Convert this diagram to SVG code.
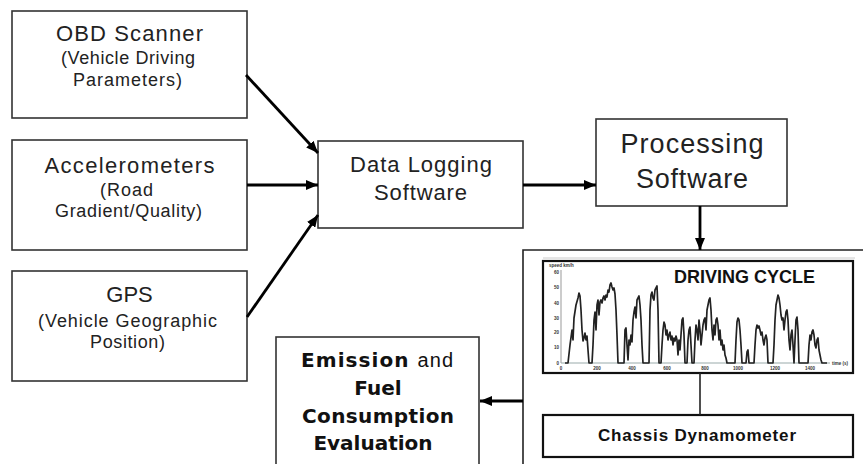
<svg xmlns="http://www.w3.org/2000/svg" width="863" height="464" viewBox="0 0 863 464">
  <defs>
    <marker id="arrow" viewBox="0 0 12 10" refX="12" refY="5" markerWidth="12" markerHeight="10" markerUnits="userSpaceOnUse" orient="auto">
      <path d="M0,0 L12,5 L0,10 Z" fill="#000"/>
    </marker>
    <style>
      .box { fill: #fff; stroke: #333; stroke-width: 1.6; }
      .frame { fill: #fff; stroke: #111; stroke-width: 2.2; }
      .t { font-family: "Liberation Sans", Arial, sans-serif; fill: #222; text-anchor: middle; }
      .big { font-size: 22px; }
      .sub { font-size: 18px; }
      .bold { font-family: "DejaVu Sans", Verdana, sans-serif; font-weight: bold; font-size: 20px; fill: #111; text-anchor: middle; }
      .conn { fill: none; stroke: #000; stroke-width: 2.8; }
      .thin { fill: none; stroke: #222; stroke-width: 1.6; }
      .tick { font-family: "Liberation Sans", Arial, sans-serif; font-weight: bold; font-size: 4.5px; fill: #333; }
    </style>
  </defs>
  <rect width="863" height="464" fill="#fff"/>

  <!-- input sources -->
  <g id="obd-scanner">
    <rect class="box" x="12" y="11" width="235" height="107"/>
    <text class="t big" x="129.5" y="41" textLength="147">OBD Scanner</text>
    <text class="t sub" x="128" y="64" textLength="134">(Vehicle Driving</text>
    <text class="t sub" x="127.5" y="86" textLength="109">Parameters)</text>
  </g>
  <g id="accelerometers">
    <rect class="box" x="12" y="140" width="235" height="110"/>
    <text class="t big" x="129.5" y="173" textLength="170">Accelerometers</text>
    <text class="t sub" x="126.5" y="196" textLength="53">(Road</text>
    <text class="t sub" x="128.5" y="217" textLength="147">Gradient/Quality)</text>
  </g>
  <g id="gps">
    <rect class="box" x="12" y="271" width="235" height="110"/>
    <text class="t big" x="129.5" y="302">GPS</text>
    <text class="t sub" x="127.5" y="327" textLength="179">(Vehicle Geographic</text>
    <text class="t sub" x="127.5" y="348" textLength="75">Position)</text>
  </g>

  <!-- logging and processing -->
  <g id="data-logging">
    <rect class="box" x="318" y="141" width="205" height="87"/>
    <text class="t big" x="421" y="172" textLength="142">Data Logging</text>
    <text class="t big" x="420.5" y="200" textLength="93">Software</text>
  </g>
  <g id="processing">
    <rect class="box" x="596" y="119" width="191" height="87"/>
    <text class="t" style="font-size:27px" x="692" y="153" textLength="143">Processing</text>
    <text class="t" style="font-size:27px" x="692" y="188" textLength="112">Software</text>
  </g>

  <!-- test bench enclosure: open on the right and bottom -->
  <g id="test-bench">
    <path class="thin" d="M863,250 H523 V464"/>
    <line x1="543" y1="258" x2="855" y2="258" stroke="#ccc" stroke-width="1"/>
  </g>

  <g id="driving-cycle">
    <rect class="frame" x="543" y="261" width="310" height="112"/>
    <!-- axes -->
    <line x1="561" y1="270" x2="561" y2="363" stroke="#999" stroke-width="1"/>
    <line x1="561" y1="363" x2="830" y2="363" stroke="#9aa" stroke-width="1"/>
    <!-- speed trace -->
    <polyline fill="none" stroke="#222" stroke-width="1.7" stroke-linejoin="round" points="565,363 568,363 570,345 572,330 573,340 574,318 576,305 578,298 579,293 580,296 581,310 582,330 583,341 584,338 585,333 586,340 587,336 588,350 589,363 592,363 593,345 594,320 595,312 596,330 597,305 598,300 599,315 600,302 601,300 602,303 603,298 604,296 605,300 606,295 607,297 608,290 609,292 610,285 611,283 612,287 613,290 614,288 615,294 616,310 617,335 618,363 624,363 625,330 626,328 627,345 628,360 629,340 630,345 631,335 632,342 633,320 634,312 635,307 636,318 637,300 638,298 639,296 640,305 641,320 642,345 643,363 649,363 650,310 651,295 652,292 653,298 654,300 655,290 656,288 657,286 658,310 659,363 661,363 662,345 663,330 664,322 665,325 666,335 667,330 668,340 669,335 670,332 671,340 672,336 673,345 674,338 675,341 676,336 677,340 678,355 679,340 680,350 681,335 682,320 683,318 684,335 685,363 687,363 688,340 689,330 690,327 691,345 692,363 694,363 695,340 696,325 697,330 698,340 699,320 700,330 701,345 702,335 703,325 704,320 705,318 706,330 707,310 708,305 709,300 710,298 711,310 712,330 713,340 714,325 715,335 716,320 717,318 718,325 719,340 720,330 721,345 722,340 723,350 724,345 725,355 726,358 727,363 735,363 736,340 737,322 738,318 739,320 740,330 741,345 742,363 746,363 747,352 748,350 749,363 754,363 755,345 756,330 757,325 758,328 759,326 760,330 761,335 762,332 763,340 764,345 765,338 766,335 767,340 768,363 773,363 774,345 775,320 776,305 777,300 778,295 779,298 780,305 781,315 782,320 783,318 784,330 785,320 786,312 787,310 788,320 789,340 790,350 791,335 792,330 793,345 794,363 795,340 796,320 797,317 798,330 799,363 808,363 809,345 810,335 811,340 812,332 813,330 814,335 815,345 816,348 817,340 818,338 819,350 820,355 821,360 822,363 827,363"/>
    <!-- axis labels -->
    <text class="tick" x="549" y="267">speed km/h</text>
    <g class="tick" text-anchor="end">
      <text x="559" y="365">0</text>
      <text x="559" y="349">10</text>
      <text x="559" y="334">20</text>
      <text x="559" y="320">30</text>
      <text x="559" y="305">40</text>
      <text x="559" y="289">50</text>
      <text x="559" y="274">60</text>
    </g>
    <g class="tick" text-anchor="middle">
      <text x="561" y="370">0</text>
      <text x="597" y="370">200</text>
      <text x="632" y="370">400</text>
      <text x="667" y="370">600</text>
      <text x="705" y="370">800</text>
      <text x="738" y="370">1000</text>
      <text x="775" y="370">1200</text>
      <text x="810" y="370">1400</text>
    </g>
    <text class="tick" x="832" y="365">time (s)</text>
    <text x="674" y="283" textLength="141" style="font-family:'Liberation Sans',Arial,sans-serif;font-weight:bold;font-size:18px;fill:#111">DRIVING CYCLE</text>
  </g>

  <g id="chassis-dynamometer">
    <rect class="frame" x="543" y="415" width="310" height="42"/>
    <text x="697" y="441" textLength="198" style="font-family:'Liberation Sans',Arial,sans-serif;font-weight:bold;font-size:17px;fill:#111;text-anchor:middle">Chassis Dynamometer</text>
  </g>

  <g id="emission-evaluation">
    <rect class="box" x="276" y="337" width="203" height="140"/>
    <text class="bold" x="377" y="367" textLength="152">Emission <tspan style="font-family:'Liberation Sans',Arial,sans-serif;font-weight:normal">and</tspan></text>
    <text class="bold" x="378" y="395">Fuel</text>
    <text class="bold" x="378" y="423" textLength="152">Consumption</text>
    <text class="bold" x="373" y="450">Evaluation</text>
  </g>

  <!-- connectors -->
  <g id="connectors">
    <line class="conn" x1="246" y1="75" x2="318" y2="153" marker-end="url(#arrow)"/>
    <line class="conn" x1="247" y1="185" x2="318" y2="185" marker-end="url(#arrow)"/>
    <line class="conn" x1="247" y1="317" x2="318" y2="215" marker-end="url(#arrow)"/>
    <line class="conn" x1="523" y1="185" x2="596" y2="185" marker-end="url(#arrow)"/>
    <line class="conn" x1="700" y1="206" x2="700" y2="250" marker-end="url(#arrow)"/>
    <line class="thin" x1="700" y1="373" x2="700" y2="415"/>
    <line class="conn" x1="523" y1="401" x2="480" y2="401" marker-end="url(#arrow)"/>
  </g>
</svg>
